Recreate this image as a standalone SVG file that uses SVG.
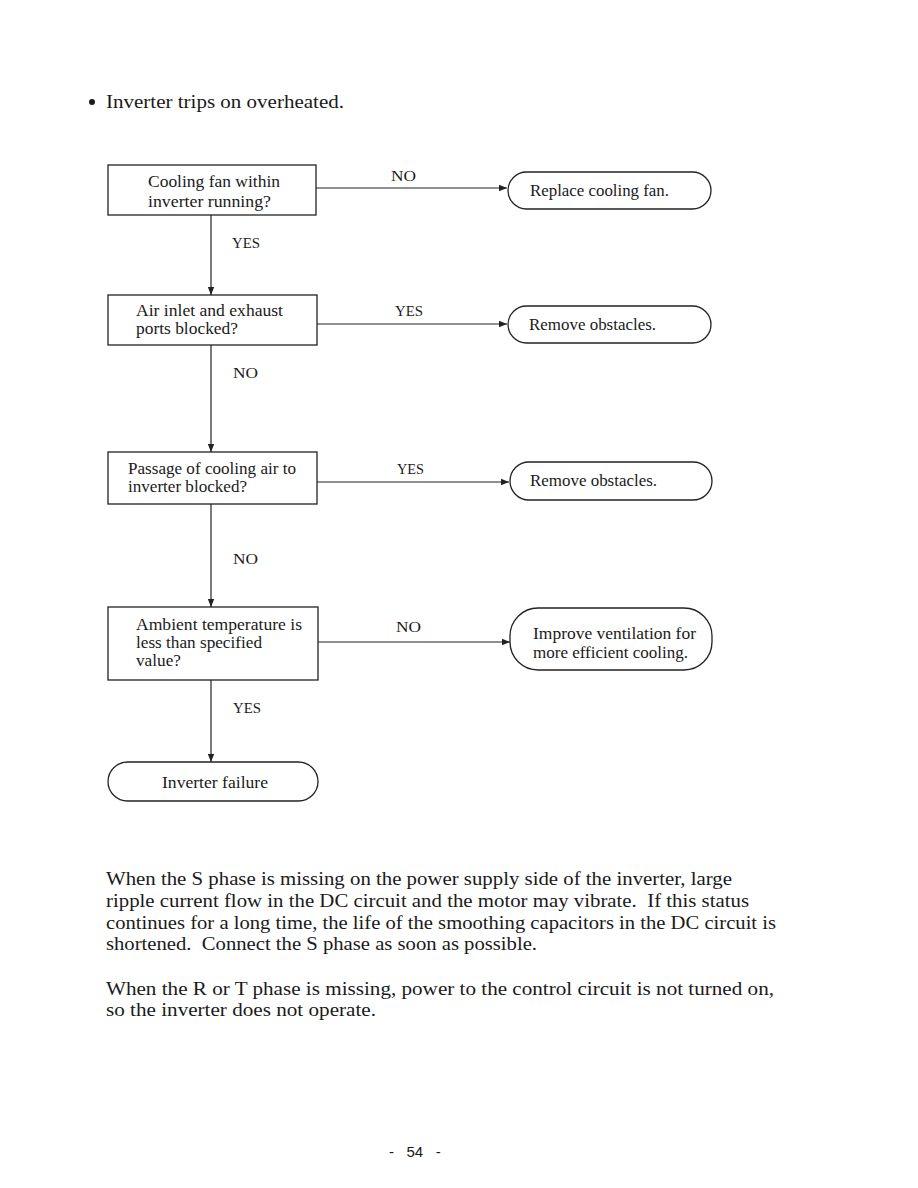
<svg xmlns="http://www.w3.org/2000/svg" width="918" height="1188" viewBox="0 0 918 1188">
<style>
text{font-family:"Liberation Serif","Times New Roman",serif;fill:#1a1a1a}
.n{font-size:16.5px}
.l{font-size:15.5px}
.p{font-size:19px}
.box{fill:#fff;stroke:#222;stroke-width:1.3}
.term{fill:#fff;stroke:#222;stroke-width:1.3}
.c{stroke:#222;stroke-width:1.2;fill:none;marker-end:url(#ah)}
</style>
<defs>
<marker id="ah" viewBox="0 0 10 10" refX="10" refY="5" markerWidth="8" markerHeight="8" markerUnits="userSpaceOnUse" orient="auto">
<path d="M0,1 L10,5 L0,9 Z" fill="#222"/>
</marker>
</defs>
<rect width="918" height="1188" fill="#fff"/>
<circle cx="92" cy="102" r="3" fill="#1a1a1a"/>
<text class="p" x="106" y="108" textLength="238" lengthAdjust="spacingAndGlyphs">Inverter trips on overheated.</text>

<g id="connectors">
<path class="c" d="M316,188 H507"/>
<path class="c" d="M211,215 V295"/>
<path class="c" d="M317,324 H507"/>
<path class="c" d="M211,345 V452"/>
<path class="c" d="M317,482 H509"/>
<path class="c" d="M211,504 V607"/>
<path class="c" d="M318,642 H510"/>
<path class="c" d="M211,680 V762"/>
<text class="l" x="391" y="181" textLength="25" lengthAdjust="spacingAndGlyphs">NO</text>
<text class="l" x="232" y="248" textLength="28" lengthAdjust="spacingAndGlyphs">YES</text>
<text class="l" x="395" y="316" textLength="28" lengthAdjust="spacingAndGlyphs">YES</text>
<text class="l" x="233" y="378" textLength="25" lengthAdjust="spacingAndGlyphs">NO</text>
<text class="l" x="397" y="474" textLength="27" lengthAdjust="spacingAndGlyphs">YES</text>
<text class="l" x="233" y="564" textLength="25" lengthAdjust="spacingAndGlyphs">NO</text>
<text class="l" x="396" y="632" textLength="25" lengthAdjust="spacingAndGlyphs">NO</text>
<text class="l" x="233" y="713" textLength="28" lengthAdjust="spacingAndGlyphs">YES</text>
</g>

<g id="q1">
<rect class="box" x="108" y="165" width="208" height="50"/>
<text class="n" x="148" y="187" textLength="132" lengthAdjust="spacingAndGlyphs">Cooling fan within</text>
<text class="n" x="148" y="207" textLength="123" lengthAdjust="spacingAndGlyphs">inverter running?</text>
</g>
<g id="a1">
<rect class="term" x="508" y="172" width="203" height="37" rx="18.5"/>
<text class="n" x="530" y="196" textLength="139" lengthAdjust="spacingAndGlyphs">Replace cooling fan.</text>
</g>

<g id="q2">
<rect class="box" x="108" y="295" width="209" height="50"/>
<text class="n" x="136" y="316" textLength="147" lengthAdjust="spacingAndGlyphs">Air inlet and exhaust</text>
<text class="n" x="136" y="334" textLength="102" lengthAdjust="spacingAndGlyphs">ports blocked?</text>
</g>
<g id="a2">
<rect class="term" x="508" y="306" width="203" height="37" rx="18.5"/>
<text class="n" x="529" y="330" textLength="127" lengthAdjust="spacingAndGlyphs">Remove obstacles.</text>
</g>

<g id="q3">
<rect class="box" x="108" y="452" width="209" height="52"/>
<text class="n" x="128" y="474" textLength="168" lengthAdjust="spacingAndGlyphs">Passage of cooling air to</text>
<text class="n" x="128" y="492" textLength="119" lengthAdjust="spacingAndGlyphs">inverter blocked?</text>
</g>
<g id="a3">
<rect class="term" x="510" y="462" width="202" height="38" rx="19"/>
<text class="n" x="530" y="486" textLength="127" lengthAdjust="spacingAndGlyphs">Remove obstacles.</text>
</g>

<g id="q4">
<rect class="box" x="108" y="607" width="210" height="73"/>
<text class="n" x="136" y="630" textLength="166" lengthAdjust="spacingAndGlyphs">Ambient temperature is</text>
<text class="n" x="136" y="648" textLength="126" lengthAdjust="spacingAndGlyphs">less than specified</text>
<text class="n" x="136" y="666" textLength="45" lengthAdjust="spacingAndGlyphs">value?</text>
</g>
<g id="a4">
<rect class="term" x="510" y="608" width="202" height="62" rx="28"/>
<text class="n" x="533" y="639" textLength="163" lengthAdjust="spacingAndGlyphs">Improve ventilation for</text>
<text class="n" x="533" y="658" textLength="155" lengthAdjust="spacingAndGlyphs">more efficient cooling.</text>
</g>

<g id="end">
<rect class="term" x="108" y="762" width="210" height="39" rx="19.5"/>
<text class="n" x="162" y="788" textLength="106" lengthAdjust="spacingAndGlyphs">Inverter failure</text>
</g>

<text class="p" x="106" y="885" textLength="626" lengthAdjust="spacingAndGlyphs">When the S phase is missing on the power supply side of the inverter, large</text>
<text class="p" x="106" y="907" textLength="643" lengthAdjust="spacingAndGlyphs" xml:space="preserve">ripple current flow in the DC circuit and the motor may vibrate.  If this status</text>
<text class="p" x="106" y="929" textLength="670" lengthAdjust="spacingAndGlyphs">continues for a long time, the life of the smoothing capacitors in the DC circuit is</text>
<text class="p" x="106" y="950" textLength="431" lengthAdjust="spacingAndGlyphs" xml:space="preserve">shortened.  Connect the S phase as soon as possible.</text>
<text class="p" x="106" y="995" textLength="668" lengthAdjust="spacingAndGlyphs">When the R or T phase is missing, power to the control circuit is not turned on,</text>
<text class="p" x="106" y="1016" textLength="270" lengthAdjust="spacingAndGlyphs">so the inverter does not operate.</text>
<text x="389" y="1157" xml:space="preserve" style="font-family:'Liberation Sans',Arial,sans-serif;font-size:15px">-   54   -</text>
</svg>
